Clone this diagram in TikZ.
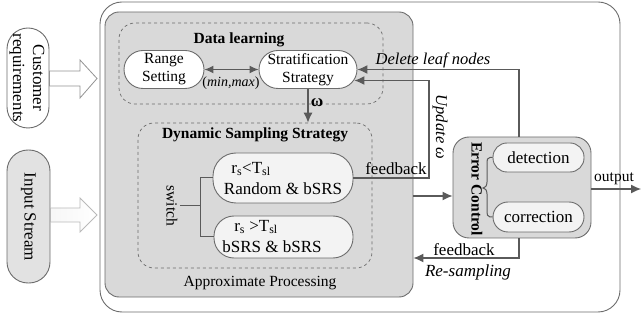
\documentclass[tikz,border=0pt]{standalone}
\usepackage{fontspec}
\setmainfont{Liberation Serif}
\usetikzlibrary{arrows.meta,calc}

\definecolor{edgegray}{HTML}{6C6C6C}
\definecolor{panelgray}{HTML}{D9D9D9}
\definecolor{palegray}{HTML}{F3F3F3}
\definecolor{linkgray}{HTML}{5A5A5A}
\definecolor{streamgray}{HTML}{E2E2E2}

\newcommand\fsz[2]{\fontsize{#1}{#2}\selectfont}

\tikzset{
  box/.style={draw=edgegray, line width=0.9pt, inner sep=0pt},
  pill/.style={box, align=center},
  dashbox/.style={draw=edgegray, dashed, line width=0.7pt, rounded corners=16pt, inner sep=0pt},
  link/.style={draw=linkgray, line width=1.2pt},
  arr/.style={link, -{Latex[length=10pt,width=9pt]}},
  biarr/.style={link, {Latex[length=9pt,width=8pt]}-{Latex[length=9pt,width=8pt]}},
  txt/.style={inner sep=0pt, text=black},
  bigarrow/.style={draw=gray!85, line width=0.8pt, line join=miter}
}

\begin{document}
\begin{tikzpicture}[x=1pt,y=-1pt]
\useasboundingbox (0,0) rectangle (642,320);

% outer frame and the approximate processing panel
\node[box, rounded corners=22pt, minimum width=520pt, minimum height=310pt] (frame) at (360,157) {};
\node[box, fill=panelgray, rounded corners=14pt, minimum width=308pt, minimum height=285pt] (proc) at (259,154.5) {};

% dashed groups
\node[dashbox, minimum width=264pt, minimum height=81pt] (learn) at (251,63.5) {};
\node[dashbox, minimum width=234pt, minimum height=145pt] (dyn) at (255,195.5) {};

\node[txt, font=\bfseries\fsz{15.5}{18}] (learnlbl) at (239,40) {Data learning};
\node[txt, font=\bfseries\fsz{15.5}{18}] (dynlbl) at (255,135) {Dynamic Sampling Strategy};
\node[txt, font=\fsz{15.5}{18}] (proclbl) at (260,283) {Approximate Processing};

% data learning nodes
\node[pill, fill=white, rounded corners=19pt, minimum width=80pt, minimum height=38pt, font=\fsz{15.5}{18}] (range) at (164,69.5) {Range\\Setting};
\node[pill, fill=white, rounded corners=19pt, minimum width=98pt, minimum height=38pt, font=\fsz{15.5}{18}] (strat) at (308,69.5) {Stratification\\Strategy};
\draw[biarr] (range.east) -- (strat.west);
\node[txt, font=\fsz{14}{16}] (mm) at (231,83) {(\textit{min,max})};

\draw[arr] (strat.south) -- (strat.south |- dyn.north);
\node[txt, font=\bfseries\fsz{17}{18}] (omega) at (317,103) {ω};

% sampling strategies
\node[box, fill=palegray, rounded corners=23pt, minimum width=140pt, minimum height=50pt] (n1) at (283,178) {};
\node[box, fill=palegray, rounded corners=20pt, minimum width=139pt, minimum height=42pt] (n2) at (283.5,237) {};
\node[txt, font=\fsz{17}{20}] (n1a) at (251,169) {r\textsubscript{s}<T\textsubscript{sl}};
\node[txt, font=\fsz{17}{20}] (n1b) at (283,189) {Random \& bSRS};
\node[txt, font=\fsz{17}{20}] (n2a) at (256,227) {r\textsubscript{s} >T\textsubscript{sl}};
\node[txt, font=\fsz{17}{20}] (n2b) at (272,247) {bSRS \& bSRS};

% switch bracket
\coordinate (swj) at (200,206);
\coordinate (swl) at (180,206);
\draw[link, line width=1pt] (n1.west) -- (n1.west -| swj) -- (n2.west -| swj) -- (n2.west);
\draw[link, line width=1pt] (swl) -- (swj);
\node[txt, rotate=-90, font=\fsz{15.5}{18}] (swlbl) at (172,206) {switch};

% error control block
\node[box, fill=panelgray, rounded corners=16pt, minimum width=138pt, minimum height=101pt] (ec) at (522,187.5) {};
\node[txt, rotate=-90, font=\bfseries\fsz{15.5}{18}] (eclbl) at (477,189) {Error Control};
\node[box, fill=palegray, rounded corners=14pt, minimum width=91pt, minimum height=29pt, font=\fsz{17}{20}] (det) at (538.5,157.5) {detection};
\node[box, fill=palegray, rounded corners=15pt, minimum width=91pt, minimum height=30pt, font=\fsz{17}{20}] (cor) at (538.5,217) {correction};
\draw[link, line width=1pt] (det.west) -- (490,157.5) .. controls (487,157.5) and (487,160) .. (487,163)
  -- (487,182) .. controls (487,186) and (485,188) .. (483,188)
  .. controls (485,188) and (487,190) .. (487,194)
  -- (487,211) .. controls (487,214) and (487,217) .. (490,217) -- (cor.west);

% feedback loops
\draw[arr] ([xshift=-3pt]ec.north) |- (strat.east);
\node[txt, font=\itshape\fsz{16.5}{19}] (dellbl) at (433,60) {Delete leaf nodes};

\coordinate (updcorner) at (429,178);
\draw[arr] (n1.east) -- (updcorner) |- ([xshift=-3pt,yshift=-11pt]strat.east);
\node[txt, font=\fsz{17}{20}] (fb1) at (396,169) {feedback};
\node[txt, rotate=-90, font=\itshape\fsz{16.5}{19}] (updlbl) at (440,127) {Update ω};

\draw[arr] (proc.east |- 0,196) -- (ec.west |- 0,196);

\draw[arr] ([xshift=-3pt]ec.south) |- (proc.east |- 0,258);
\node[txt, font=\fsz{17}{20}] (fb2) at (464,250) {feedback};
\node[txt, font=\itshape\fsz{17}{20}] (resamp) at (468,272) {Re-sampling};

% output
\coordinate (outtip) at (641,189);
\draw[arr] (ec.east |- outtip) -- (outtip);
\node[txt, font=\fsz{15.5}{18}] (outlbl) at (614,179) {output};

% inputs on the left
\node[box, fill=white, rounded corners=21pt, minimum width=42pt, minimum height=100pt] (cust) at (28,78) {};
\node[txt, rotate=-90, align=center, font=\fsz{17}{20}] (custlbl) at (27,78) {Customer\\requirements};
\node[box, fill=streamgray, rounded corners=21pt, minimum width=43pt, minimum height=133pt] (stream) at (28.5,216.5) {};
\node[txt, rotate=-90, font=\fsz{17}{20}] (streamlbl) at (28.5,217) {Input Stream};

\draw[bigarrow, fill=white] (cust.east |- 0,71) -- (80,71) -- (80,60) -- (97,78.5) -- (80,98) -- (80,86) -- (cust.east |- 0,86) -- cycle;
\draw[bigarrow, draw=gray!55, left color=palegray!70, right color=white] (stream.east |- 0,208) -- (80,208) -- (80,198) -- (97,215) -- (80,232) -- (80,222) -- (stream.east |- 0,222) -- cycle;
\end{tikzpicture}
\end{document}
